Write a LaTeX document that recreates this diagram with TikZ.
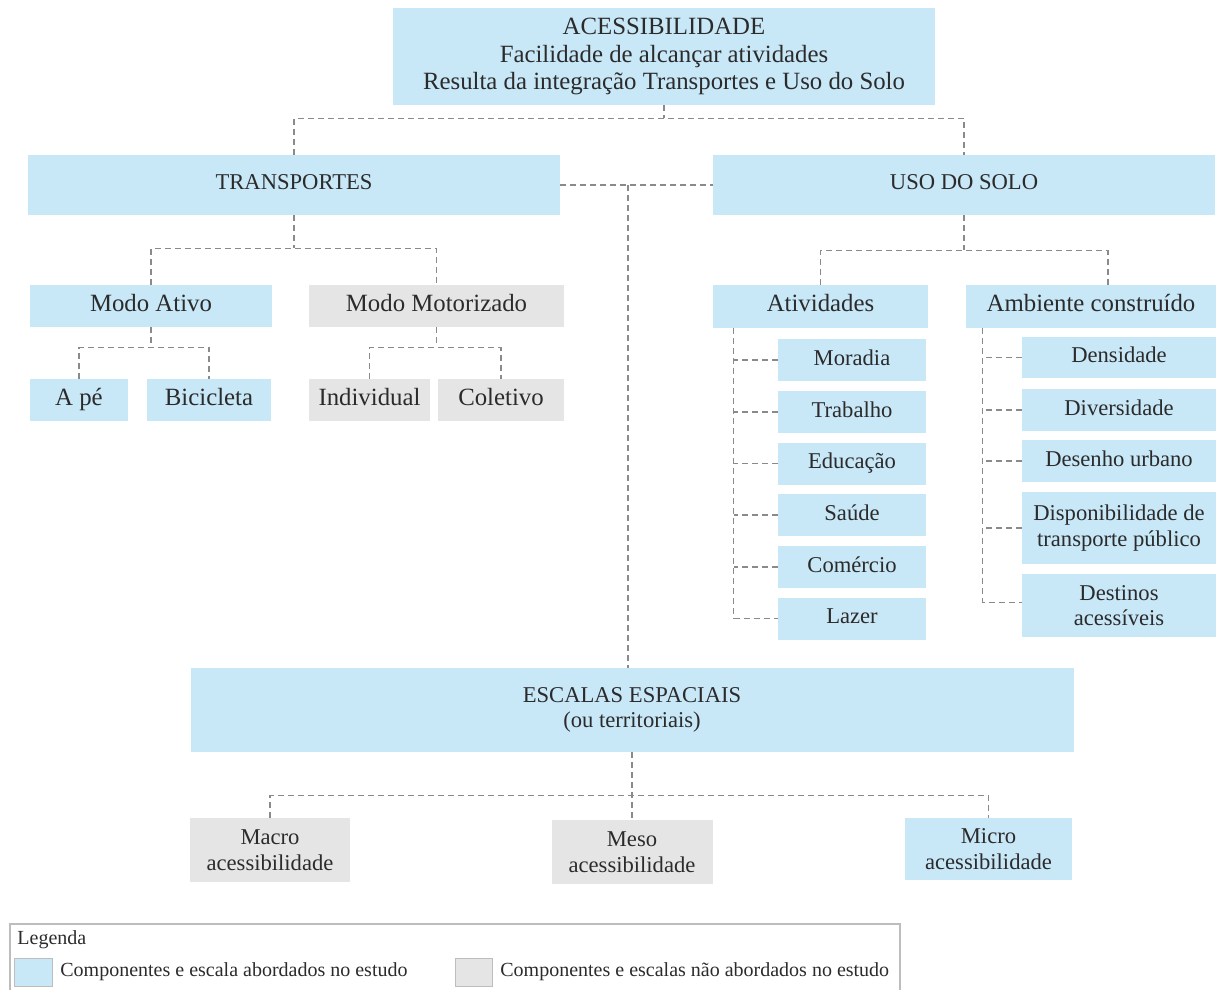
\documentclass[tikz,border=0pt]{standalone}
\usepackage{fontspec}
\setmainfont{Liberation Serif}
\usetikzlibrary{calc}

\definecolor{boxblue}{HTML}{C8E7F7}
\definecolor{boxgray}{HTML}{E5E5E5}
\definecolor{linegray}{HTML}{8A8A8A}
\definecolor{framegray}{HTML}{BDBDBD}
\definecolor{ink}{HTML}{2B2B2B}

\tikzset{
  box/.style={inner sep=0pt, text=ink, align=center},
  bluebox/.style={box, fill=boxblue},
  graybox/.style={box, fill=boxgray},
  oneline/.style={text height=0.72em, text depth=0.22em},
  wh/.style 2 args={minimum width=#1*0.5pt, minimum height=#2*0.5pt},
  big/.style={font=\fontsize{12.4}{13.75}\selectfont},
  mid/.style={font=\fontsize{11.3}{12.7}\selectfont},
  small/.style={font=\fontsize{10}{12}\selectfont},
  conn/.style={draw=linegray, line width=0.6pt, dash pattern=on 3pt off 2pt},
}

\begin{document}
\begin{tikzpicture}[x=0.5pt, y=-0.5pt]
\useasboundingbox (0,0) rectangle (1218,989);

% top concept
\node[bluebox, big, wh={542}{97}] (acc) at (664,56.5)
  {ACESSIBILIDADE\\Facilidade de alcançar atividades\\Resulta da integração Transportes e Uso do Solo};

% second level
\node[bluebox, mid, oneline, wh={532}{60}] (trans) at (294,185) {TRANSPORTES};
\node[bluebox, mid, oneline, wh={502}{60}] (uso) at (964,185) {USO DO SOLO};

% transport modes
\node[bluebox, big, oneline, wh={242}{42}] (ativo) at (151,306) {Modo Ativo};
\node[graybox, big, oneline, wh={255}{42}] (motor) at (436.5,306) {Modo Motorizado};
\node[bluebox, big, oneline, wh={98}{42}] (ape) at (79,400) {A pé};
\node[bluebox, big, oneline, wh={124}{42}] (bici) at (209,400) {Bicicleta};
\node[graybox, big, oneline, wh={121}{42}] (indiv) at (369.5,400) {Individual};
\node[graybox, big, oneline, wh={126}{42}] (colet) at (501,400) {Coletivo};

% land use
\node[bluebox, big, oneline, wh={215}{43}] (ativ) at (820.5,306.5) {Atividades};
\node[bluebox, big, oneline, wh={250}{43}] (amb) at (1091,306.5) {Ambiente construído};

\node[bluebox, mid, oneline, wh={148}{42}] (mora) at (852,360) {Moradia};
\node[bluebox, mid, oneline, wh={148}{42}] (trab) at (852,412) {Trabalho};
\node[bluebox, mid, oneline, wh={148}{42}] (educ) at (852,463.5) {Educação};
\node[bluebox, mid, oneline, wh={148}{42}] (saud) at (852,515) {Saúde};
\node[bluebox, mid, oneline, wh={148}{42}] (come) at (852,567) {Comércio};
\node[bluebox, mid, oneline, wh={148}{42}] (lazer) at (852,618.5) {Lazer};

\node[bluebox, mid, oneline, wh={194}{41}] (dens) at (1119,357.5) {Densidade};
\node[bluebox, mid, oneline, wh={194}{42}] (dive) at (1119,410) {Diversidade};
\node[bluebox, mid, oneline, wh={194}{42}] (dese) at (1119,461) {Desenho urbano};
\node[bluebox, mid, wh={194}{72}] (disp) at (1119,528) {Disponibilidade de\\transporte público};
\node[bluebox, mid, wh={194}{63}] (dest) at (1119,605.5) {Destinos\\acessíveis};

% spatial scales
\node[bluebox, mid, wh={883}{84}] (esc) at (632,710) {ESCALAS ESPACIAIS\\(ou territoriais)};
\node[graybox, mid, wh={160}{64}] (macro) at (270,850) {Macro\\acessibilidade};
\node[graybox, mid, wh={161}{64}] (meso) at (632,852) {Meso\\acessibilidade};
\node[bluebox, mid, wh={167}{62}] (micro) at (988.5,849) {Micro\\acessibilidade};

% connectors: top level
\coordinate (j1) at ($(acc.south)+(0,13)$);
\draw[conn] (acc.south) -- (j1);
\draw[conn] (trans.north) |- (j1) -| (uso.north);
\draw[conn] (trans.east) -- (uso.west);
\coordinate (tap) at ($(esc.north)+(-4,0)$);
\draw[conn] (tap |- trans.east) -- (tap);

% connectors: transport
\coordinate (j2) at ($(trans.south)+(0,33)$);
\draw[conn] (trans.south) -- (j2);
\draw[conn] (ativo.north) |- (j2) -| (motor.north);
\coordinate (j3) at ($(ativo.south)+(0,20)$);
\draw[conn] (ativo.south) -- (j3);
\draw[conn] (ape.north) |- (j3) -| (bici.north);
\coordinate (j4) at ($(motor.south)+(0,20)$);
\draw[conn] (motor.south) -- (j4);
\draw[conn] (indiv.north) |- (j4) -| (colet.north);

% connectors: land use
\coordinate (j5) at ($(uso.south)+(0,35)$);
\draw[conn] (uso.south) -- (j5);
\draw[conn] (ativ.north) |- (j5) -| ($(amb.north)+(17,0)$);

\coordinate (r1) at ($(ativ.south west)+(21,0)$);
\draw[conn] (r1) |- (lazer.west);
\foreach \c in {mora,trab,educ,saud,come}
  \draw[conn] (\c.west) -- (\c.west -| r1);

\coordinate (r2) at ($(amb.south west)+(17,0)$);
\draw[conn] (r2) |- ($(dest.west)+(0,-3)$);
\foreach \c in {dens,dive,dese,disp}
  \draw[conn] (\c.west) -- (\c.west -| r2);

% connectors: scales
\coordinate (j6) at ($(esc.south)+(0,43)$);
\draw[conn] (esc.south) -- (meso.north);
\draw[conn] (macro.north) |- (j6) -| (micro.north);

% legend
\draw[framegray, line width=0.6pt] (10,995) -- (10,924) -- (900,924) -- (900,995);
\node[box, small, anchor=west] (legtitle) at (17,940) {Legenda};
\node[bluebox, draw=framegray, line width=0.5pt, wh={38}{28}, anchor=west] (sw1) at (14,972) {};
\node[box, small, anchor=west] (lg1) at (60,972) {Componentes e escala abordados no estudo};
\node[graybox, draw=framegray, line width=0.5pt, wh={37}{28}, anchor=west] (sw2) at (455,972) {};
\node[box, small, anchor=west] (lg2) at (500,972) {Componentes e escalas não abordados no estudo};
\end{tikzpicture}
\end{document}
